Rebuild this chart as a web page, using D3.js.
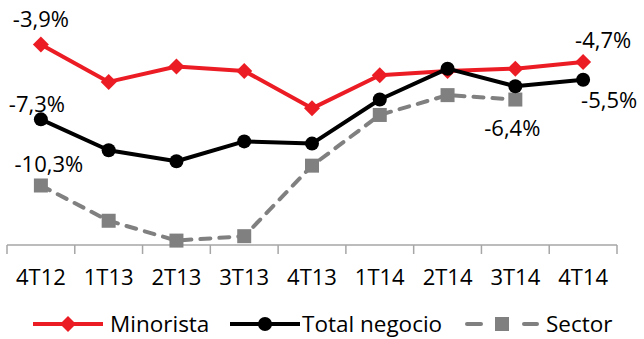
<!DOCTYPE html>
<html>
<head>
<meta charset="utf-8">
<script src="https://cdn.jsdelivr.net/npm/d3@7"></script>
<style>
  html, body { margin: 0; padding: 0; background: #fff; }
  svg { display: block; font-family: "Open Sans", "Noto Sans", sans-serif; }
</style>
</head>
<body>
<svg id="chart" width="644" height="339"></svg>
<script>
// Quarterly change (%), three series
const categories = ["4T12", "1T13", "2T13", "3T13", "4T13", "1T14", "2T14", "3T14", "4T14"];
const minorista   = [-3.9, -5.6, -4.9, -5.1, -6.8, -5.3, -5.1, -5.0, -4.7];
const totalNegocio = [-7.3, -8.7, -9.2, -8.3, -8.4, -6.4, -5.0, -5.8, -5.5];
const sector      = [-10.3, -11.9, -12.8, -12.6, -9.4, -7.1, -6.2, -6.4, null];
const yDomain = [-13, -3];

const svg = d3.select("#chart");
const fmt = v => d3.format(".1f")(v).replace(".", ",").replace("−", "-") + "%";

const x = d3.scaleBand().domain(categories).range([7, 617]).padding(0);
const y = d3.scaleLinear().domain(yDomain).range([245, 24.6]);
const cx = c => x(c) + x.bandwidth() / 2;

// Category axis: ticks on band boundaries
const axisY = y(yDomain[0]);
const axisG = svg.append("g").attr("transform", `translate(0,${axisY})`);
axisG.append("line").attr("x1", 7).attr("x2", 617).attr("stroke", "#a6a6a6").attr("stroke-width", 1.5);
const bounds = categories.map(c => x(c)).concat([x(categories[categories.length - 1]) + x.bandwidth()]);
axisG.selectAll("line.tick").data(bounds).join("line")
  .attr("class", "tick")
  .attr("x1", d => d).attr("x2", d => d)
  .attr("y1", 0).attr("y2", 9)
  .attr("stroke", "#a6a6a6").attr("stroke-width", 1.5);
axisG.selectAll("text").data(categories).join("text")
  .attr("x", d => cx(d)).attr("y", 40)
  .attr("text-anchor", "middle")
  .attr("font-size", 22).attr("fill", "#000")
  .text(d => d);

const series = [
  { name: "Minorista", values: minorista, color: "#ec1c24", shape: "diamond", dash: null },
  { name: "Total negocio", values: totalNegocio, color: "#000000", shape: "circle", dash: null },
  { name: "Sector", values: sector, color: "#808080", shape: "square", dash: "10,9" }
];

function drawMarker(g, shape, color) {
  if (shape === "diamond") {
    g.append("path").attr("d", "M0,-8L8,0L0,8L-8,0Z").attr("fill", color);
  } else if (shape === "circle") {
    g.append("circle").attr("r", 7).attr("fill", color);
  } else {
    g.append("rect").attr("x", -7).attr("y", -7).attr("width", 14).attr("height", 14).attr("fill", color);
  }
}

// Draw in reverse so Minorista sits beneath the total line where they meet
const drawOrder = [series[2], series[0], series[1]];
drawOrder.forEach(s => {
  const pts = categories.map((c, i) => ({ c, v: s.values[i] })).filter(d => d.v !== null);
  const line = d3.line().x(d => cx(d.c)).y(d => y(d.v));
  svg.append("path").datum(pts)
    .attr("d", line)
    .attr("fill", "none")
    .attr("stroke", s.color)
    .attr("stroke-width", 4)
    .attr("stroke-linecap", s.dash ? "round" : "butt")
    .attr("stroke-linejoin", "round")
    .attr("stroke-dasharray", s.dash);
  pts.forEach(d => {
    const g = svg.append("g").attr("transform", `translate(${cx(d.c)},${y(d.v)})`);
    drawMarker(g, s.shape, s.color);
  });
});

// Value labels at the first and last points
const labels = [
  { values: minorista, idx: 0, dx: 0, dy: -17 },
  { values: minorista, idx: 8, dx: 20, dy: -14 },
  { values: totalNegocio, idx: 0, dx: -4, dy: -7 },
  { values: totalNegocio, idx: 8, dx: 26, dy: 28 },
  { values: sector, idx: 0, dx: 8, dy: -13 },
  { values: sector, idx: 7, dx: -3, dy: 36 }
];
svg.selectAll("text.vlabel").data(labels).join("text")
  .attr("class", "vlabel")
  .attr("x", d => cx(categories[d.idx]) + d.dx)
  .attr("y", d => y(d.values[d.idx]) + d.dy)
  .attr("text-anchor", "middle")
  .attr("font-size", 22).attr("fill", "#000")
  .text(d => fmt(d.values[d.idx]));

// Legend
const legendY = 324;
const legendItems = [
  { s: series[0], x0: 33, x1: 103, tx: 110 },
  { s: series[1], x0: 230, x1: 300, tx: 302 },
  { s: series[2], x0: 467, x1: 537, tx: 546 }
];
legendItems.forEach(it => {
  const g = svg.append("g");
  if (it.s.dash) {
    g.append("line").attr("x1", it.x0).attr("x2", it.x0 + 14).attr("y1", legendY).attr("y2", legendY)
      .attr("stroke", it.s.color).attr("stroke-width", 4).attr("stroke-linecap", "round");
    g.append("line").attr("x1", it.x1 - 13).attr("x2", it.x1).attr("y1", legendY).attr("y2", legendY)
      .attr("stroke", it.s.color).attr("stroke-width", 4).attr("stroke-linecap", "round");
  } else {
    g.append("line").attr("x1", it.x0).attr("x2", it.x1).attr("y1", legendY).attr("y2", legendY)
      .attr("stroke", it.s.color).attr("stroke-width", 4);
  }
  const m = g.append("g").attr("transform", `translate(${(it.x0 + it.x1) / 2},${legendY})`);
  drawMarker(m, it.s.shape, it.s.color);
  g.append("text").attr("x", it.tx).attr("y", legendY + 7.5)
    .attr("font-size", 22.5).attr("fill", "#000").text(it.s.name);
});
</script>
</body>
</html>
